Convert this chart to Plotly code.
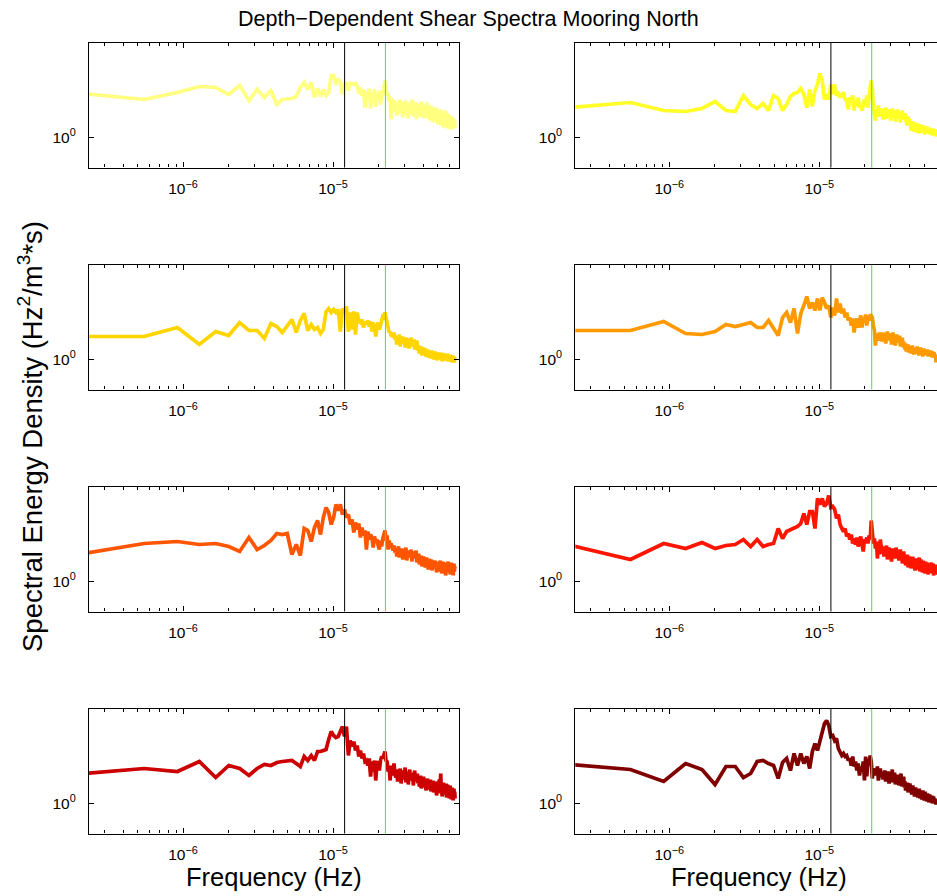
import numpy as np
import plotly.graph_objects as go

# ---------------- data ----------------
N_FREQ = 178
FREQ_STEP = 3.67e-7          # Hz, spectral resolution
freq = (np.arange(N_FREQ) + 0.5) * FREQ_STEP

F_INERTIAL = 1.195e-5        # black reference line (Hz)
F_M2 = 2.236e-5              # green reference line (Hz)

x_tick_vals = [1e-6, 1e-5]
x_tick_text = ["10<sup>\u22126</sup>", "10<sup>\u22125</sup>"]
y_tick_vals = [1.0]
y_tick_text = ["10<sup>0</sup>"]

panel_colors = ["#FFFF80", "#FFFF26", "#FFD500", "#FF9900",
                "#FF5500", "#FF1400", "#CC0000", "#800000"]

# log10 of spectral energy density, one list per depth (panel)
spec_A_log10 = [
    0.45,0.38,0.45,0.51,0.50,0.43,0.52,0.37,0.48,0.40,
    0.47,0.33,0.38,0.39,0.39,0.41,0.50,0.55,0.48,0.55,
    0.40,0.49,0.41,0.48,0.42,0.45,0.62,0.62,0.53,0.58,
    0.56,0.43,0.53,0.55,0.47,0.54,0.54,0.53,0.54,0.52,
    0.44,0.50,0.42,0.48,0.30,0.46,0.38,0.49,0.29,0.45,
    0.35,0.48,0.31,0.44,0.40,0.47,0.33,0.46,0.42,0.50,
    0.57,0.50,0.42,0.44,0.36,0.41,0.18,0.39,0.30,0.37,
    0.26,0.35,0.22,0.33,0.29,0.38,0.24,0.31,0.36,0.20,
    0.33,0.27,0.37,0.23,0.30,0.34,0.19,0.32,0.28,0.36,
    0.24,0.30,0.38,0.21,0.29,0.33,0.26,0.35,0.18,0.30,
    0.27,0.34,0.22,0.31,0.25,0.36,0.20,0.29,0.32,0.23,
    0.30,0.19,0.33,0.26,0.28,0.35,0.21,0.27,0.31,0.17,
    0.29,0.24,0.32,0.20,0.26,0.30,0.15,0.27,0.22,0.29,
    0.19,0.25,0.30,0.18,0.24,0.28,0.13,0.26,0.21,0.27,
    0.16,0.23,0.28,0.12,0.22,0.26,0.18,0.24,0.10,0.21,
    0.25,0.15,0.20,0.27,0.12,0.19,0.23,0.09,0.18,0.24,
    0.14,0.20,0.11,0.22,0.16,0.08,0.19,0.13,0.21,0.10,
    0.17,0.12,0.20,0.09,0.15,0.18,0.10,0.14]

spec_B_log10 = [
    0.29,0.35,0.27,0.26,0.29,0.36,0.27,0.26,0.42,0.33,
    0.29,0.34,0.27,0.42,0.39,0.27,0.33,0.41,0.44,0.45,
    0.49,0.43,0.30,0.48,0.31,0.47,0.53,0.64,0.57,0.38,
    0.43,0.38,0.53,0.43,0.53,0.42,0.44,0.40,0.43,0.45,
    0.38,0.37,0.28,0.40,0.35,0.42,0.27,0.37,0.32,0.40,
    0.30,0.32,0.27,0.35,0.38,0.34,0.42,0.30,0.47,0.50,
    0.57,0.50,0.30,0.24,0.17,0.28,0.23,0.32,0.21,0.27,
    0.22,0.29,0.18,0.26,0.24,0.30,0.19,0.25,0.28,0.21,
    0.27,0.17,0.24,0.29,0.20,0.23,0.27,0.16,0.25,0.22,
    0.28,0.19,0.23,0.26,0.15,0.24,0.21,0.27,0.18,0.22,
    0.18,0.24,0.16,0.20,0.12,0.17,0.21,0.14,0.19,0.13,
    0.14,0.07,0.12,0.16,0.10,0.13,0.06,0.11,0.15,0.09,
    0.12,0.05,0.10,0.14,0.08,0.11,0.04,0.12,0.09,0.13,
    0.07,0.11,0.05,0.10,0.12,0.06,0.09,0.03,0.11,0.08,
    0.10,0.05,0.08,0.11,0.04,0.09,0.06,0.10,0.03,0.07,
    0.09,0.04,0.08,0.05,0.02,0.07,0.09,0.04,0.06,0.02,
    0.05,0.08,0.03,0.06,0.01,0.05,0.07,0.02,0.04,0.06,
    0.03,0.05,0.01,0.04,0.06,0.02,0.04,0.03]

spec_C_log10 = [
    0.23,0.23,0.32,0.15,0.28,0.24,0.37,0.29,0.29,0.21,
    0.36,0.33,0.27,0.33,0.40,0.27,0.39,0.46,0.29,0.35,
    0.30,0.32,0.26,0.30,0.48,0.51,0.47,0.50,0.47,0.50,
    0.28,0.51,0.47,0.53,0.28,0.47,0.30,0.48,0.25,0.47,
    0.38,0.37,0.40,0.32,0.38,0.35,0.39,0.33,0.38,0.28,
    0.37,0.33,0.23,0.32,0.37,0.30,0.35,0.38,0.43,0.42,
    0.47,0.42,0.35,0.30,0.27,0.28,0.23,0.25,0.22,0.27,
    0.20,0.24,0.15,0.22,0.18,0.25,0.13,0.21,0.17,0.23,
    0.16,0.20,0.12,0.22,0.18,0.14,0.21,0.11,0.19,0.16,
    0.22,0.13,0.18,0.15,0.20,0.10,0.17,0.14,0.19,0.12,
    0.09,0.14,0.06,0.11,0.08,0.13,0.04,0.10,0.07,0.12,
    0.05,0.09,0.11,0.03,0.08,0.06,0.10,0.02,0.07,0.09,
    0.04,0.08,0.01,0.06,0.09,0.03,0.07,0.05,0.00,0.06,
    0.08,0.02,0.05,0.07,-0.01,0.04,0.06,0.02,0.07,0.03,
    0.05,0.00,0.06,0.03,0.07,-0.02,0.04,0.02,0.05,0.01,
    0.06,0.02,-0.01,0.04,0.05,0.00,0.03,0.06,-0.02,0.03,
    0.01,0.04,-0.01,0.03,0.05,-0.02,0.02,0.04,0.00,-0.03,
    0.02,0.04,-0.01,0.03,0.00,-0.03,0.02,0.01]

spec_D_log10 = [
    0.29,0.29,0.38,0.26,0.25,0.28,0.35,0.33,0.35,0.37,
    0.32,0.32,0.39,0.31,0.24,0.42,0.47,0.37,0.51,0.26,
    0.46,0.54,0.63,0.51,0.57,0.49,0.61,0.49,0.62,0.57,
    0.51,0.54,0.42,0.52,0.44,0.61,0.47,0.56,0.46,0.51,
    0.42,0.47,0.39,0.42,0.34,0.41,0.27,0.37,0.41,0.32,
    0.39,0.44,0.32,0.42,0.37,0.45,0.34,0.44,0.39,0.44,
    0.44,0.42,0.34,0.29,0.14,0.26,0.22,0.19,0.27,0.21,
    0.24,0.18,0.27,0.21,0.25,0.16,0.23,0.28,0.19,0.24,
    0.20,0.26,0.15,0.22,0.27,0.18,0.23,0.14,0.21,0.25,
    0.17,0.22,0.19,0.24,0.13,0.20,0.16,0.22,0.12,0.18,
    0.14,0.10,0.16,0.08,0.13,0.11,0.15,0.07,0.12,0.09,
    0.13,0.06,0.11,0.14,0.08,0.10,0.05,0.12,0.09,0.11,
    0.07,0.10,0.13,0.06,0.09,0.04,0.11,0.08,0.12,0.05,
    0.09,0.06,0.10,0.03,0.08,0.11,0.05,0.09,0.07,0.10,
    0.06,0.08,0.04,0.10,0.07,0.03,0.09,0.05,0.08,0.06,
    0.09,0.04,0.07,0.05,0.02,0.08,0.06,0.03,0.07,0.04,
    0.06,0.02,0.05,-0.03,0.04,0.01,0.03,-0.01,0.02,0.00,
    0.03,-0.02,0.01,0.02,-0.01,0.01,0.00,-0.02]

spec_E_log10 = [
    0.26,0.38,0.40,0.37,0.38,0.35,0.30,0.44,0.32,0.36,
    0.41,0.48,0.47,0.48,0.27,0.37,0.26,0.53,0.51,0.40,
    0.54,0.61,0.47,0.64,0.74,0.69,0.57,0.64,0.77,0.71,
    0.77,0.67,0.72,0.64,0.67,0.57,0.62,0.49,0.59,0.52,
    0.58,0.44,0.54,0.46,0.51,0.32,0.50,0.42,0.47,0.44,
    0.34,0.45,0.39,0.42,0.36,0.32,0.41,0.35,0.43,0.47,
    0.51,0.41,0.46,0.32,0.41,0.36,0.38,0.34,0.31,0.36,
    0.29,0.33,0.25,0.31,0.35,0.24,0.30,0.27,0.33,0.22,
    0.29,0.32,0.26,0.34,0.21,0.28,0.31,0.24,0.30,0.27,
    0.32,0.20,0.28,0.25,0.30,0.23,0.27,0.31,0.19,0.26,
    0.22,0.28,0.17,0.24,0.20,0.26,0.15,0.23,0.19,0.25,
    0.18,0.22,0.14,0.21,0.24,0.16,0.20,0.12,0.19,0.23,
    0.15,0.20,0.17,0.22,0.11,0.18,0.21,0.14,0.19,0.16,
    0.21,0.13,0.18,0.09,0.17,0.20,0.12,0.16,0.19,0.10,
    0.17,0.21,0.13,0.15,0.08,0.18,0.14,0.20,0.11,0.16,
    0.19,0.12,0.15,0.06,0.17,0.13,0.18,0.10,0.14,0.20,
    0.09,0.16,0.12,0.18,0.07,0.14,0.11,0.19,0.08,0.15,
    0.12,0.17,0.06,0.14,0.18,0.10,0.15,0.13]

spec_F_log10 = [
    0.39,0.22,0.38,0.33,0.39,0.33,0.36,0.37,0.42,0.35,
    0.42,0.35,0.37,0.38,0.53,0.43,0.50,0.52,0.54,0.55,
    0.58,0.68,0.57,0.70,0.70,0.53,0.83,0.77,0.83,0.75,
    0.78,0.86,0.74,0.75,0.72,0.63,0.67,0.57,0.53,0.50,
    0.53,0.45,0.48,0.42,0.47,0.38,0.43,0.37,0.44,0.35,
    0.40,0.45,0.37,0.30,0.42,0.40,0.44,0.38,0.46,0.42,
    0.61,0.50,0.38,0.43,0.33,0.40,0.23,0.37,0.27,0.42,
    0.33,0.28,0.35,0.25,0.32,0.29,0.36,0.22,0.30,0.34,
    0.27,0.31,0.20,0.29,0.33,0.26,0.30,0.23,0.34,0.28,
    0.25,0.31,0.21,0.28,0.32,0.24,0.29,0.18,0.27,0.30,
    0.23,0.26,0.16,0.24,0.21,0.27,0.14,0.22,0.25,0.19,
    0.24,0.13,0.21,0.18,0.25,0.15,0.22,0.19,0.11,0.20,
    0.23,0.16,0.19,0.12,0.21,0.17,0.24,0.10,0.18,0.22,
    0.15,0.19,0.09,0.17,0.21,0.13,0.18,0.08,0.16,0.20,
    0.12,0.17,0.14,0.19,0.07,0.15,0.18,0.11,0.16,0.09,
    0.17,0.13,0.19,0.08,0.15,0.12,0.18,0.06,0.14,0.17,
    0.10,0.15,0.08,0.13,0.17,0.09,0.12,0.07,0.14,0.11,
    0.08,0.13,0.10,0.06,0.12,0.09,0.11,0.07]

spec_G_log10 = [
    0.29,0.35,0.32,0.42,0.26,0.38,0.35,0.28,0.35,0.39,
    0.38,0.41,0.42,0.43,0.43,0.40,0.37,0.47,0.43,0.48,
    0.43,0.52,0.52,0.53,0.54,0.64,0.72,0.68,0.66,0.67,
    0.73,0.77,0.67,0.77,0.48,0.63,0.57,0.62,0.53,0.58,
    0.47,0.53,0.45,0.50,0.42,0.43,0.38,0.45,0.27,0.42,
    0.32,0.43,0.23,0.40,0.42,0.33,0.43,0.47,0.45,0.50,
    0.52,0.43,0.42,0.32,0.37,0.23,0.38,0.28,0.35,0.40,
    0.30,0.26,0.34,0.22,0.31,0.27,0.35,0.20,0.29,0.33,
    0.24,0.30,0.36,0.21,0.28,0.32,0.19,0.27,0.34,0.23,
    0.29,0.25,0.31,0.18,0.27,0.33,0.22,0.28,0.24,0.30,
    0.20,0.26,0.17,0.23,0.28,0.15,0.22,0.25,0.19,0.27,
    0.16,0.21,0.24,0.13,0.20,0.18,0.25,0.14,0.19,0.22,
    0.17,0.24,0.12,0.19,0.21,0.15,0.23,0.11,0.18,0.20,
    0.14,0.22,0.17,0.08,0.19,0.15,0.21,0.12,0.18,0.24,
    0.10,0.17,0.30,0.13,0.16,0.07,0.19,0.14,0.21,0.11,
    0.16,0.09,0.18,0.13,0.20,0.06,0.15,0.12,0.19,0.08,
    0.14,0.17,0.05,0.13,0.18,0.09,0.15,0.04,0.12,0.16,
    0.08,0.14,0.03,0.11,0.15,0.06,0.12,0.05]

spec_H_log10 = [
    0.40,0.34,0.22,0.40,0.34,0.19,0.37,0.37,0.26,0.30,
    0.42,0.43,0.40,0.38,0.25,0.41,0.45,0.33,0.50,0.38,
    0.50,0.40,0.47,0.35,0.52,0.60,0.53,0.62,0.72,0.80,
    0.83,0.78,0.67,0.68,0.63,0.65,0.55,0.52,0.48,0.50,
    0.47,0.48,0.43,0.45,0.38,0.47,0.37,0.42,0.33,0.40,
    0.28,0.37,0.32,0.42,0.23,0.47,0.27,0.45,0.38,0.48,
    0.42,0.25,0.35,0.32,0.33,0.28,0.37,0.23,0.32,0.35,
    0.27,0.31,0.24,0.29,0.33,0.22,0.28,0.25,0.32,0.20,
    0.27,0.30,0.23,0.34,0.21,0.26,0.31,0.19,0.28,0.25,
    0.22,0.29,0.18,0.26,0.23,0.30,0.17,0.24,0.21,0.27,
    0.16,0.22,0.13,0.19,0.15,0.21,0.11,0.18,0.14,0.20,
    0.12,0.17,0.09,0.15,0.18,0.10,0.14,0.07,0.13,0.16,
    0.09,0.14,0.11,0.06,0.13,0.10,0.15,0.05,0.12,0.08,
    0.11,0.04,0.09,0.13,0.06,0.10,0.03,0.08,0.12,0.05,
    0.09,0.02,0.07,0.10,0.04,0.08,0.01,0.06,0.09,0.03,
    0.07,0.02,0.05,0.08,0.00,0.06,0.03,0.07,0.01,0.04,
    0.05,0.01,0.04,-0.01,0.03,0.02,0.04,0.00,0.02,0.01,
    0.03,0.00,0.02,-0.01,0.01,0.02,0.00,0.01]

spectra_log10 = [spec_A_log10, spec_B_log10, spec_C_log10, spec_D_log10,
                 spec_E_log10, spec_F_log10, spec_G_log10, spec_H_log10]

# ---------------- layout geometry ----------------
W, H = 937, 896
FONT = "Liberation Sans, Arial, Helvetica, sans-serif"
col_px = [(89.0, 459.0), (575.3, 937.0)]
x_ranges = [[-6.6267, -4.16], [-6.6267, -4.2153]]
row_top_px = [43.0, 265.0, 487.0, 709.0]
PANEL_H = 124.5
Y_RANGE = [-0.30, 0.945]

minor_x = ([m * 1e-7 for m in range(3, 10)] + [m * 1e-6 for m in range(2, 10)]
           + [m * 1e-5 for m in range(2, 7)])

fig = go.Figure()
layout = dict(
    width=W, height=H,
    margin=dict(l=0, r=0, t=0, b=0),
    paper_bgcolor="white", plot_bgcolor="white",
    showlegend=False,
    font=dict(family=FONT, color="black", size=15),
)

for i, vals in enumerate(spectra_log10):
    row, col = divmod(i, 2)
    n = i + 1
    xa = "x" if n == 1 else f"x{n}"
    ya = "y" if n == 1 else f"y{n}"
    y_vals = 10 ** np.array(vals)
    fig.add_trace(go.Scatter(x=freq, y=y_vals, mode="lines",
                             line=dict(color=panel_colors[i], width=3.7),
                             xaxis=xa, yaxis=ya, hoverinfo="skip"))
    for fref, lc in [(F_INERTIAL, "black"), (F_M2, "#33EE33")]:
        fig.add_trace(go.Scatter(x=[fref, fref], y=[0.3, 20], mode="lines",
                                 line=dict(color=lc, width=1),
                                 xaxis=xa, yaxis=ya, hoverinfo="skip"))

    x0, x1 = col_px[col]
    top = row_top_px[row]
    bot = top + PANEL_H
    xkey = "xaxis" if n == 1 else f"xaxis{n}"
    ykey = "yaxis" if n == 1 else f"yaxis{n}"
    layout[xkey] = dict(
        type="log", domain=[x0 / W, x1 / W], range=x_ranges[col],
        anchor=ya, showgrid=False, zeroline=False,
        showline=True, linecolor="black", linewidth=1.3, mirror="ticks",
        ticks="inside", ticklen=5, tickwidth=1, tickcolor="black",
        tickvals=x_tick_vals, ticktext=x_tick_text,
        tickfont=dict(size=15.5, family=FONT, color="black"),
        ticklabelstandoff=7,
        minor=dict(tickvals=minor_x, ticks="inside", ticklen=3,
                   tickwidth=1, tickcolor="black", showgrid=False),
    )
    layout[ykey] = dict(
        type="log", domain=[1 - bot / H, 1 - top / H], range=Y_RANGE,
        anchor=xa, showgrid=False, zeroline=False,
        showline=True, linecolor="black", linewidth=1.3,
        mirror="ticks" if col == 0 else False,
        ticks="inside", ticklen=5, tickwidth=1, tickcolor="black",
        tickvals=y_tick_vals, ticktext=y_tick_text,
        tickfont=dict(size=15.5, family=FONT, color="black"),
        ticklabelstandoff=9,
    )

layout["annotations"] = [
    dict(text="Depth\u2212Dependent Shear Spectra Mooring North",
         x=468 / W, y=1 - 19 / H, xref="paper", yref="paper",
         showarrow=False, xanchor="center", yanchor="middle",
         font=dict(size=21.5, family=FONT, color="black")),
    dict(text="Spectral Energy Density (Hz<sup>2</sup>/m<sup>3</sup>*s)",
         x=30 / W, y=1 - 437 / H, xref="paper", yref="paper",
         showarrow=False, xanchor="center", yanchor="middle", textangle=-90,
         font=dict(size=27.5, family=FONT, color="black")),
    dict(text="Frequency (Hz)", x=274 / W, y=1 - 877 / H,
         xref="paper", yref="paper", showarrow=False,
         xanchor="center", yanchor="middle",
         font=dict(size=25.5, family=FONT, color="black")),
    dict(text="Frequency (Hz)", x=759 / W, y=1 - 877 / H,
         xref="paper", yref="paper", showarrow=False,
         xanchor="center", yanchor="middle",
         font=dict(size=25.5, family=FONT, color="black")),
]

fig.update_layout(**layout)
fig.write_html(
    "out.html",
    config={"displayModeBar": False},
    post_script="document.body.style.margin='0';document.body.style.overflow='hidden';",
)
